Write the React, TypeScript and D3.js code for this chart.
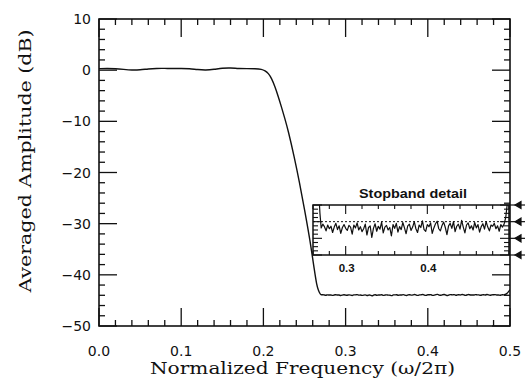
import React from "react";
import * as d3 from "d3";

// ---------- data ----------
const responseFreq = [
  0, 0.01, 0.02, 0.03, 0.04, 0.05, 0.06, 0.07, 0.08, 0.09, 0.1, 0.11, 0.12, 0.13, 0.14,
  0.15, 0.16, 0.17, 0.18, 0.19, 0.198, 0.202, 0.206, 0.21, 0.214, 0.218, 0.222, 0.226,
  0.23, 0.2375, 0.244, 0.25, 0.2565, 0.2625, 0.2648, 0.2668, 0.2685,
];
const responseDb = [
  0.3, 0.35, 0.3, 0.15, 0.0, 0.05, 0.25, 0.35, 0.35, 0.3, 0.35, 0.3, 0.1, 0.0, 0.15,
  0.4, 0.45, 0.3, 0.3, 0.3, 0.2, -0.1, -0.6, -1.6, -3.2, -5.1, -7.2, -9.4,
  -11.7, -16.9, -22.0, -27.2, -33.0, -39.6, -41.9, -43.0, -43.6,
];
const stopStart = 0.27;
const stopStep = 0.002;
const stopbandDb = [
  -43.95, -43.86, -43.92, -44.02, -43.88, -43.97, -43.91, -44.06, -43.93, -43.84,
  -43.99, -43.9, -44.08, -43.94, -43.87, -43.96, -44.01, -43.89, -43.93, -44.1,
  -43.88, -43.95, -43.83, -44.0, -43.92, -44.04, -43.97, -43.86, -44.12, -43.94,
  -43.9, -44.18, -43.96, -43.85, -44.03, -43.91, -43.98, -43.81, -44.07, -43.93,
  -43.89, -44.0, -43.94, -44.14, -43.87, -43.96, -43.84, -44.05, -43.92, -43.99,
  -43.82, -43.95, -44.09, -43.9, -43.86, -44.01, -43.93, -43.8, -43.97, -44.06,
  -43.88, -43.94, -43.78, -43.99, -44.03, -43.87, -43.92, -43.83, -44.08, -43.95,
  -43.85, -43.79, -43.97, -44.02, -43.89, -43.81, -43.94, -44.11, -43.9, -43.84,
  -43.96, -43.8, -44.04, -43.91, -43.86, -43.98, -43.77, -43.93, -44.07, -43.88,
  -43.83, -43.97, -43.9, -44.0, -43.82, -43.95, -43.87, -44.05, -43.92, -43.85,
  -43.98, -43.8, -43.93, -44.02, -43.88, -43.91, -43.84, -43.97, -43.9, -44.03,
  -43.87, -43.93, -43.86, -43.7, -43.35, -42.9,
];
const xMajorTicks = [0, 0.1, 0.2, 0.3, 0.4, 0.5];
const yMajorTicks = [10, 0, -10, -20, -30, -40, -50];
const insetXLabels = [0.3, 0.4];
const insetYTicks = [-43.4, -43.8, -44.2, -44.6];
const insetRefLevel = -43.8;

const xTitle = "Normalized Frequency (\u03c9/2\u03c0)";
const yTitle = "Averaged Amplitude (dB)";
const insetTitle = "Stopband detail";

// ---------- layout ----------
const W = 525;
const H = 378;
const L = 99, R = 510, T = 19, B = 326;
const IL = 313, IR = 509, IT = 205, IB = 255;

const fmtNum = (v: number, d: number) => {
  const s = Math.abs(v).toFixed(d);
  return v < 0 ? "\u2212" + s : s;
};

export default function App() {
  const x = d3.scaleLinear().domain([0, 0.5]).range([L, R]);
  const y = d3.scaleLinear().domain([-50, 10]).range([B, T]);
  const ix = d3.scaleLinear().domain([0.26, 0.5]).range([IL, IR]);
  const iy = d3.scaleLinear().domain([-44.6, -43.4]).range([IB, IT]);

  const stopPts: [number, number][] = stopbandDb.map((v, i) => [stopStart + i * stopStep, v]);
  const transPts: [number, number][] = responseFreq.map(
    (f, i) => [f, responseDb[i]] as [number, number]
  );
  const mainPts: [number, number][] = [...transPts, ...stopPts];

  const mainLine = d3
    .line<[number, number]>()
    .x((d) => x(d[0]))
    .y((d) => y(d[1]))
    .curve(d3.curveBasis);
  const insetLine = d3
    .line<[number, number]>()
    .x((d) => ix(d[0]))
    .y((d) => iy(d[1]))
    .curve(d3.curveLinear);

  const xMinor = d3.range(0, 0.5001, 0.02);
  const yMinor = d3.range(-50, 10.001, 2);
  const ixMinor = d3.range(0.26, 0.5001, 0.02);
  const iyMinor = d3.range(-44.6, -43.399, 0.1);

  const tickMajor = 18;
  const tickMinor = 6;

  const stroke = "#111";

  return (
    <svg
      width={W}
      height={H}
      style={{ position: "absolute", left: 0, top: 0, background: "#fff" }}
    >
      <defs>
        <clipPath id="insetClip">
          <rect x={IL} y={IT} width={IR - IL} height={IB - IT} />
        </clipPath>
        <clipPath id="mainClip">
          <rect x={L} y={T} width={R - L} height={B - T} />
        </clipPath>
      </defs>
      <rect x={0} y={0} width={W} height={H} fill="#fff" />

      {/* main curve */}
      <path
        d={mainLine(mainPts) || ""}
        fill="none"
        stroke={stroke}
        strokeWidth={1.4}
        strokeLinejoin="round"
        clipPath="url(#mainClip)"
      />

      {/* main ticks */}
      <g stroke={stroke} strokeWidth={1.3}>
        {xMinor.map((t, i) => {
          const isMajor = Math.abs(t * 10 - Math.round(t * 10)) < 1e-6;
          const len = isMajor ? tickMajor : tickMinor;
          return (
            <g key={"xt" + i}>
              <line x1={x(t)} x2={x(t)} y1={B} y2={B - len} />
              <line x1={x(t)} x2={x(t)} y1={T} y2={T + len} />
            </g>
          );
        })}
        {yMinor.map((t, i) => {
          const isMajor = Math.abs(t / 10 - Math.round(t / 10)) < 1e-6;
          const len = isMajor ? tickMajor : tickMinor;
          return (
            <g key={"yt" + i}>
              <line x1={L} x2={L + len} y1={y(t)} y2={y(t)} />
              <line x1={R} x2={R - len} y1={y(t)} y2={y(t)} />
            </g>
          );
        })}
      </g>

      {/* frame */}
      <rect x={L} y={T} width={R - L} height={B - T} fill="none" stroke={stroke} strokeWidth={1.6} />

      {/* tick labels */}
      <g fontFamily="DejaVu Sans" fontSize={14} fill={stroke}>
        {xMajorTicks.map((t) => (
          <text key={"xl" + t} x={x(t)} y={356} textAnchor="middle">
            {fmtNum(t, 1)}
          </text>
        ))}
        {yMajorTicks.map((t) => (
          <text key={"yl" + t} x={91} y={y(t) + 5} textAnchor="end">
            {fmtNum(t, 0)}
          </text>
        ))}
      </g>

      {/* axis titles */}
      <text
        x={(L + R) / 2 - 2}
        y={374}
        textAnchor="middle"
        fontFamily="DejaVu Serif"
        fontSize={16.5}
        textLength={305}
        lengthAdjust="spacingAndGlyphs"
        fill={stroke}
      >
        {xTitle}
      </text>
      <text
        transform={`translate(31,161) rotate(-90)`}
        textAnchor="middle"
        fontFamily="DejaVu Serif"
        fontSize={16.5}
        textLength={263}
        lengthAdjust="spacingAndGlyphs"
        fill={stroke}
      >
        {yTitle}
      </text>

      {/* inset */}
      <rect x={IL} y={IT} width={IR - IL} height={IB - IT} fill="#fff" />
      <line
        x1={IL}
        x2={IR}
        y1={iy(insetRefLevel)}
        y2={iy(insetRefLevel)}
        stroke={stroke}
        strokeWidth={1}
        strokeDasharray="2,2"
      />
      <path
        d={insetLine([...transPts.filter((p) => p[0] > 0.255), ...stopPts]) || ""}
        fill="none"
        stroke={stroke}
        strokeWidth={1.2}
        strokeLinejoin="round"
        clipPath="url(#insetClip)"
      />
      <g stroke={stroke} strokeWidth={1.1}>
        {ixMinor.map((t, i) => {
          const isMajor = insetXLabels.some((m) => Math.abs(m - t) < 1e-6);
          const len = isMajor ? 9 : 4;
          return (
            <g key={"ixt" + i}>
              <line x1={ix(t)} x2={ix(t)} y1={IT} y2={IT + len} />
              <line x1={ix(t)} x2={ix(t)} y1={IB} y2={IB - len} />
            </g>
          );
        })}
        {iyMinor.map((t, i) => {
          const isMajor = insetYTicks.some((m) => Math.abs(m - t) < 1e-6);
          const len = isMajor ? 9 : 5;
          return (
            <g key={"iyt" + i}>
              <line x1={IL} x2={IL + len} y1={iy(t)} y2={iy(t)} />
              <line x1={IR} x2={IR - len} y1={iy(t)} y2={iy(t)} />
            </g>
          );
        })}
      </g>
      <rect x={IL} y={IT} width={IR - IL} height={IB - IT} fill="none" stroke={stroke} strokeWidth={1.5} />
      {/* right-side label markers (clipped at the page edge) */}
      <g fill={stroke} stroke={stroke} strokeWidth={1.2}>
        {insetYTicks.map((t) => (
          <g key={"im" + t}>
            <line x1={IR} x2={W} y1={iy(t)} y2={iy(t)} />
            <path
              d={`M${IR + 6},${iy(t)} L${IR + 12},${iy(t) - 3.5} L${IR + 12},${iy(t) + 3.5} Z`}
            />
          </g>
        ))}
      </g>
      <text
        x={(IL + IR) / 2 + 2}
        y={198}
        textAnchor="middle"
        fontFamily="Liberation Sans"
        fontWeight="bold"
        fontSize={13}
        textLength={108}
        lengthAdjust="spacingAndGlyphs"
        fill={stroke}
      >
        {insetTitle}
      </text>
      <g fontFamily="Liberation Sans" fontWeight="bold" fontSize={11.5} fill={stroke}>
        {insetXLabels.map((t) => (
          <text key={"ixl" + t} x={ix(t) + 1} y={272} textAnchor="middle">
            {t.toFixed(1)}
          </text>
        ))}
      </g>
    </svg>
  );
}
